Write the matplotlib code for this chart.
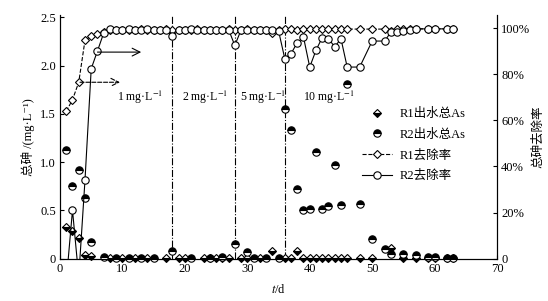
import numpy as np
import matplotlib
matplotlib.use('Agg')
from matplotlib import pyplot as plt

plt.rcParams['font.family'] = ['Liberation Serif', 'DejaVu Serif', 'Noto Sans CJK SC']
plt.rcParams['mathtext.fontset'] = 'stix'
plt.rcParams['font.size'] = 9

# R1 effluent total As (mg/L)
r1_eff_days = [1, 2, 3, 4, 5, 8, 10, 12, 14, 17, 19, 20, 23, 24, 25, 26, 27, 29, 30, 32, 34, 36, 37, 38,
               39, 40, 41, 42, 43, 44, 45, 46, 48, 50, 53, 55, 57, 59, 60, 62, 63]
r1_eff = [0.33, 0.29, 0.21, 0.04, 0.03, 0.01, 0.01, 0.01, 0.01, 0.01, 0.01, 0.01, 0.01, 0.01, 0.01, 0.01,
          0.01, 0.01, 0.01, 0.01, 0.08, 0.01, 0.01, 0.08, 0.01, 0.01, 0.01, 0.01, 0.01, 0.01, 0.01, 0.01,
          0.01, 0.01, 0.11, 0.01, 0.01, 0.01, 0.01, 0.01, 0.01]

# R2 effluent total As (mg/L)
r2_eff_days = [1, 2, 3, 4, 5, 7, 9, 11, 13, 15, 18, 21, 24, 26, 28, 30, 31, 33, 35, 36, 37, 38, 39, 40,
               41, 42, 43, 44, 45, 46, 48, 50, 52, 53, 55, 57, 59, 60, 62, 63]
r2_eff = [1.13, 0.75, 0.92, 0.63, 0.17, 0.02, 0.01, 0.01, 0.01, 0.01, 0.075, 0.01, 0.01, 0.02, 0.155,
          0.065, 0.01, 0.01, 0.01, 1.55, 1.33, 0.72, 0.50, 0.51, 1.10, 0.51, 0.54, 0.97, 0.55, 1.81,
          0.57, 0.20, 0.10, 0.05, 0.05, 0.035, 0.02, 0.02, 0.01, 0.01]

# R1 removal rate (%)
r1_rem_days = [1, 2, 3, 4, 5, 6, 7, 8, 9, 10, 11, 12, 13, 14, 15, 16, 17, 18, 19, 20, 21, 22, 23, 24,
               25, 26, 27, 28, 29, 30, 31, 32, 33, 34, 35, 36, 37, 38, 39, 40, 41, 42, 43, 44, 45, 46,
               48, 50, 52, 53, 54, 55, 56, 57, 59, 60, 62, 63]
r1_rem = [64.0, 69.0, 76.6, 94.8, 96.7, 97.7, 98.5, 99.2, 99.4, 99.5, 99.4, 99.5, 99.6, 99.5, 99.4,
          99.5, 99.6, 99.5, 99.5, 99.4, 99.5, 99.6, 99.5, 99.5, 99.4, 99.5, 99.6, 99.5, 99.5, 99.6,
          99.5, 99.5, 99.4, 98.2, 99.5, 99.6, 99.6, 99.2, 99.7, 99.7, 99.7, 99.7, 99.7, 99.7, 99.7,
          99.7, 99.7, 99.7, 99.7, 98.9, 99.7, 99.7, 99.7, 99.8, 99.8, 99.8, 99.8, 99.8]

# R2 removal rate (%)
r2_rem_days = [1, 2, 3, 4, 5, 6, 7, 8, 9, 10, 11, 12, 13, 14, 15, 16, 17, 18, 19, 20, 21, 22, 23, 24,
               25, 26, 27, 28, 29, 30, 31, 32, 33, 34, 35, 36, 37, 38, 39, 40, 41, 42, 43, 44, 45, 46,
               48, 50, 52, 53, 54, 55, 56, 57, 59, 60, 62, 63]
r2_rem = [-10.0, 21.0, -8.0, 34.0, 82.5, 90.2, 98.0, 99.6, 99.5, 99.4, 99.6, 99.5, 99.4, 99.6, 99.5,
          99.4, 99.5, 96.5, 99.4, 99.5, 99.6, 99.4, 99.5, 99.3, 99.5, 99.4, 99.5, 92.6, 99.3, 99.4,
          99.5, 99.4, 99.5, 99.3, 99.0, 86.9, 89.0, 93.8, 96.2, 83.2, 90.5, 96.0, 95.5, 92.0, 95.5,
          83.2, 83.2, 94.5, 94.5, 98.4, 98.4, 98.8, 99.2, 99.8, 99.8, 99.8, 99.8, 99.8]

phase_days = [18, 28, 36]
phase_labels = ['1 mg·L$^{-1}$', '2 mg·L$^{-1}$', '5 mg·L$^{-1}$', '10 mg·L$^{-1}$']
phase_label_x = [12.8, 23.2, 32.5, 43.0]

fig = plt.figure(figsize=(5.48, 3.01), dpi=100)
ax1 = fig.add_axes([0.1095, 0.141, 0.7975, 0.809])
ax2 = ax1.twinx()

# effluent on left axis
h1, = ax1.plot(r1_eff_days, r1_eff, linestyle='none', marker='D', markersize=4,
               fillstyle='bottom', markerfacecolor='black', markerfacecoloralt='white',
               markeredgecolor='black', markeredgewidth=0.8, clip_on=False, zorder=3)
h2, = ax1.plot(r2_eff_days, r2_eff, linestyle='none', marker='o', markersize=5.3,
               fillstyle='top', markerfacecolor='black', markerfacecoloralt='white',
               markeredgecolor='black', markeredgewidth=0.8, clip_on=False, zorder=4)

for d in phase_days:
    ax1.axvline(d, color='black', linestyle='-.', linewidth=0.8, zorder=1)
for lab, x in zip(phase_labels, phase_label_x):
    ax1.text(x, 1.675, lab, ha='center', va='center', fontsize=8.5)

# removal on right axis
h3, = ax2.plot(r1_rem_days, r1_rem, color='black', linestyle='--', linewidth=0.8, marker='D',
               markersize=4, markerfacecolor='white', markeredgecolor='black', markeredgewidth=0.8)
h4, = ax2.plot(r2_rem_days, r2_rem, color='black', linestyle='-', linewidth=0.8, marker='o',
               markersize=5.3, markerfacecolor='white', markeredgecolor='black', markeredgewidth=0.8)

ax2.annotate('', xy=(9.6, 76.6), xytext=(3.2, 76.6),
             arrowprops=dict(arrowstyle='->', linestyle='--', linewidth=0.8, color='black',
                             mutation_scale=14, shrinkA=0, shrinkB=0))
ax2.annotate('', xy=(13.0, 89.7), xytext=(6.0, 89.7),
             arrowprops=dict(arrowstyle='->', linewidth=0.8, color='black',
                             mutation_scale=14, shrinkA=0, shrinkB=0))

ax1.set_xlim(0, 70)
ax1.set_ylim(0, 2.524)
ax2.set_ylim(0, 105.8)
ax1.set_xticks(np.arange(0, 71, 10))
ax1.set_xticklabels(['0', '10', '20', '30', '40', '50', '60', '70'])
ax1.set_yticks([0, 0.5, 1.0, 1.5, 2.0, 2.5])
ax1.set_yticklabels(['0', '0.5', '1.0', '1.5', '2.0', '2.5'])
ax2.set_yticks([0, 20, 40, 60, 80, 100])
ax2.set_yticklabels(['0', '20%', '40%', '60%', '80%', '100%'])

for ax in (ax1, ax2):
    ax.spines['top'].set_visible(False)
    ax.tick_params(direction='in', length=3, width=0.8, labelsize=9, pad=3)
    for s in ax.spines.values():
        s.set_linewidth(0.8)

ax1.set_xlabel('$t$/d', fontsize=9, labelpad=6)
ax1.set_ylabel('总砷 /(mg·L⁻¹)', fontsize=9, labelpad=4)
ax2.set_ylabel('总砷去除率', fontsize=9, rotation=90, labelpad=1)

ax1.legend([h1, h2, h3, h4], ['R1出水总As', 'R2出水总As', 'R1去除率', 'R2去除率'],
           loc='upper left', bbox_to_anchor=(0.665, 0.665), frameon=False, fontsize=9,
           handlelength=2.4, handletextpad=0.6, labelspacing=0.7)

fig.savefig('out.png', dpi=100)
